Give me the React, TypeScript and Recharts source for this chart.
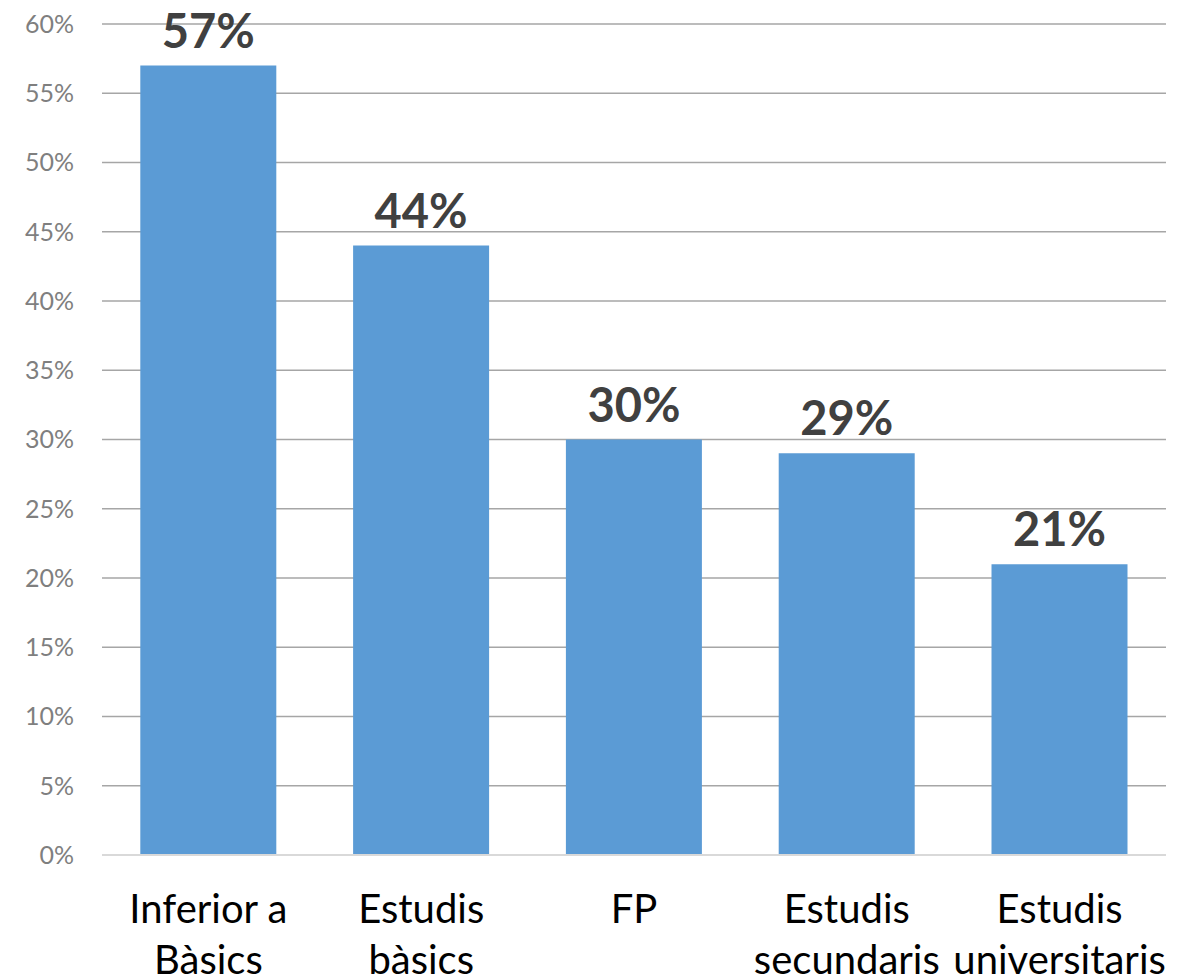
import React from "react";
import { BarChart, Bar, XAxis, YAxis, CartesianGrid, LabelList } from "recharts";

const categories = ["Inferior a\nBàsics", "Estudis\nbàsics", "FP", "Estudis\nsecundaris", "Estudis\nuniversitaris"];
const values = [57, 44, 30, 29, 21];
const yTicks = [0, 5, 10, 15, 20, 25, 30, 35, 40, 45, 50, 55, 60];

const data = categories.map((c, i) => ({ name: c, value: values[i] }));

const FONT = "Lato, 'Noto Sans', sans-serif";

const XTick = (props: any) => {
  const { x, y, payload } = props;
  const lines = String(payload.value).split("\n");
  return (
    <g transform={`translate(${x},${y})`}>
      {lines.map((l, i) => (
        <text key={i} x={0} y={60 + i * 51} textAnchor="middle" fill="#000000" fontSize={40} fontFamily={FONT}>
          {l}
        </text>
      ))}
    </g>
  );
};

export default function App() {
  return (
    <div style={{ position: "absolute", left: 0, top: 0, width: 1179, height: 980, background: "#fff" }}>
      <BarChart width={1179} height={980} data={data} margin={{ top: 24, right: 13, left: 0, bottom: 0 }} barCategoryGap="18%">
        <CartesianGrid vertical={false} stroke="#a6a6a6" strokeWidth={1.5} />
        <XAxis dataKey="name" height={125} tick={<XTick />} tickLine={false} axisLine={{ stroke: "#d9d9d9", strokeWidth: 2 }} interval={0} />
        <YAxis
          width={102}
          domain={[0, 60]}
          ticks={yTicks}
          tickFormatter={(v: number) => `${v}%`}
          axisLine={false}
          tickLine={false}
          tickSize={0}
          tickMargin={28}
          tick={{ fill: "#7f7f7f", fontSize: 25, fontFamily: FONT }}
        />
        <Bar dataKey="value" fill="#5b9bd5" isAnimationActive={false}>
          <LabelList
            dataKey="value"
            position="top"
            offset={18}
            formatter={(v: any) => `${v}%`}
            style={{ fill: "#404040", fontSize: 47, fontWeight: 700, fontFamily: FONT }}
          />
        </Bar>
      </BarChart>
    </div>
  );
}
